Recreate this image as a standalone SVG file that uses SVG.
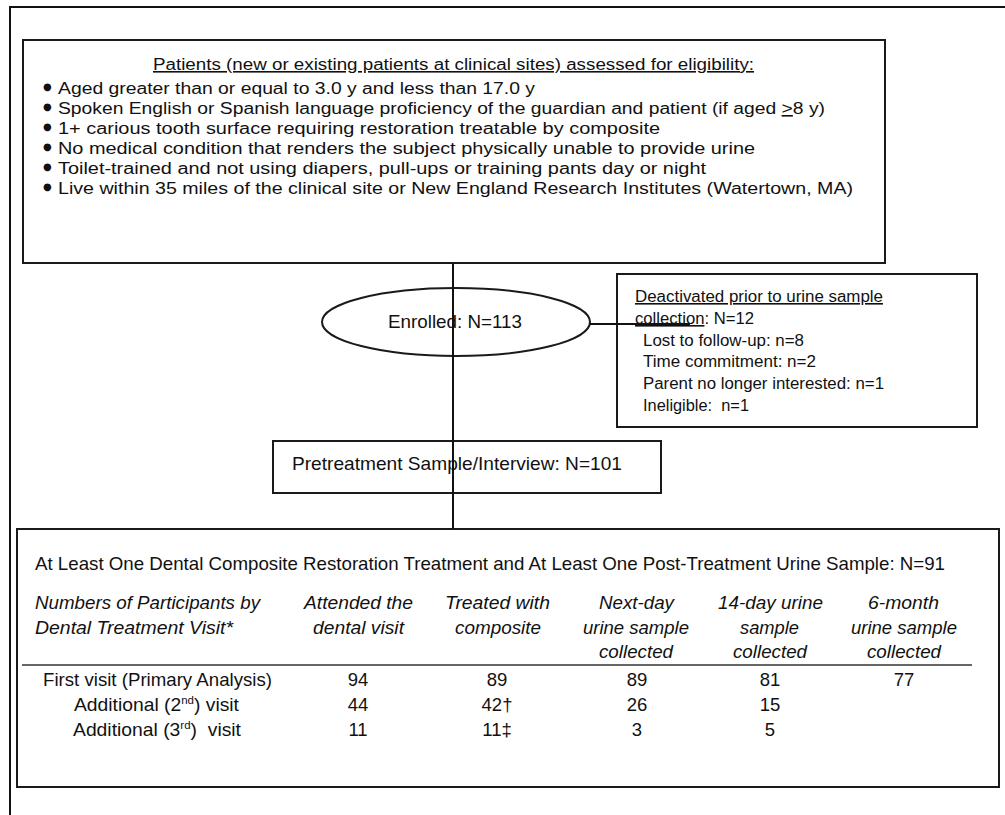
<svg xmlns="http://www.w3.org/2000/svg" width="1005" height="815" viewBox="0 0 1005 815">
<style>
.box{fill:#fff;stroke:#1a1a1a;stroke-width:2}
.ln{fill:none;stroke:#111;stroke-width:2}
text{font-family:"Liberation Sans",Arial,sans-serif;fill:#111}
.t15{font-size:16px}
.t18{font-size:18.5px}
.it{font-size:18.5px;font-style:italic}
.num{font-size:18.5px;text-anchor:middle}
.bul{font-family:"DejaVu Sans",sans-serif;font-size:10px}
</style>
<rect width="1005" height="815" fill="#fff"/>
<g id="frame">
<path class="ln" d="M10 815 V7 H1005"/>
</g>
<g id="node-eligibility">
<rect class="box" x="23" y="40" width="862" height="223"/>
<text class="t15" x="153" y="70" textLength="601" lengthAdjust="spacingAndGlyphs" text-decoration="underline">Patients (new or existing patients at clinical sites) assessed for eligibility:</text>
<text class="bul" x="43" y="90">●</text>
<text class="t15" x="58" y="94" textLength="477" lengthAdjust="spacingAndGlyphs">Aged greater than or equal to 3.0 y and less than 17.0 y</text>
<text class="bul" x="43" y="110">●</text>
<text class="t15" x="58" y="114" textLength="767" lengthAdjust="spacingAndGlyphs">Spoken English or Spanish language proficiency of the guardian and patient (if aged <tspan text-decoration="underline">&gt;</tspan>8 y)</text>
<text class="bul" x="43" y="130">●</text>
<text class="t15" x="58" y="134" textLength="602" lengthAdjust="spacingAndGlyphs">1+ carious tooth surface requiring restoration treatable by composite</text>
<text class="bul" x="43" y="150">●</text>
<text class="t15" x="58" y="154" textLength="697" lengthAdjust="spacingAndGlyphs">No medical condition that renders the subject physically unable to provide urine</text>
<text class="bul" x="43" y="170">●</text>
<text class="t15" x="58" y="174" textLength="648" lengthAdjust="spacingAndGlyphs">Toilet-trained and not using diapers, pull-ups or training pants day or night</text>
<text class="bul" x="43" y="190">●</text>
<text class="t15" x="58" y="194" textLength="795" lengthAdjust="spacingAndGlyphs">Live within 35 miles of the clinical site or New England Research Institutes (Watertown, MA)</text>
</g>
<g id="node-enrolled">
<ellipse class="box" cx="456" cy="322" rx="134" ry="34"/>
<text class="t18" x="388" y="328" textLength="134" lengthAdjust="spacingAndGlyphs">Enrolled: N=113</text>
</g>
<g id="node-deactivated">
<rect class="box" x="617" y="274" width="360" height="153"/>
<text class="t15" x="635" y="302" textLength="248" lengthAdjust="spacingAndGlyphs" text-decoration="underline">Deactivated prior to urine sample</text>
<text class="t15" x="635" y="324" textLength="119" lengthAdjust="spacingAndGlyphs"><tspan text-decoration="underline">collection</tspan>: N=12</text>
<text class="t15" x="643" y="346" textLength="161" lengthAdjust="spacingAndGlyphs">Lost to follow-up: n=8</text>
<text class="t15" x="643" y="367" textLength="173" lengthAdjust="spacingAndGlyphs">Time commitment: n=2</text>
<text class="t15" x="643" y="389" textLength="241" lengthAdjust="spacingAndGlyphs">Parent no longer interested: n=1</text>
<text class="t15" x="643" y="411" textLength="106" lengthAdjust="spacingAndGlyphs" xml:space="preserve">Ineligible:  n=1</text>
</g>
<g id="node-pretreatment">
<rect class="box" x="273" y="441" width="388" height="52"/>
<text class="t18" x="292" y="470" textLength="330" lengthAdjust="spacingAndGlyphs">Pretreatment Sample/Interview: N=101</text>
</g>
<g id="node-treatment">
<rect class="box" x="17" y="529" width="982" height="258"/>
<text class="t18" x="35" y="570" textLength="910" lengthAdjust="spacingAndGlyphs">At Least One Dental Composite Restoration Treatment and At Least One Post-Treatment Urine Sample: N=91</text>
<text class="it" x="35" y="609" textLength="225" lengthAdjust="spacingAndGlyphs">Numbers of Participants by</text>
<text class="it" x="35" y="634" textLength="198" lengthAdjust="spacingAndGlyphs">Dental Treatment Visit*</text>
<text class="it" x="304" y="609" textLength="109" lengthAdjust="spacingAndGlyphs">Attended the</text>
<text class="it" x="313" y="634" textLength="91" lengthAdjust="spacingAndGlyphs">dental visit</text>
<text class="it" x="445" y="609" textLength="105" lengthAdjust="spacingAndGlyphs">Treated with</text>
<text class="it" x="455" y="634" textLength="86" lengthAdjust="spacingAndGlyphs">composite</text>
<text class="it" x="599" y="609" textLength="75" lengthAdjust="spacingAndGlyphs">Next-day</text>
<text class="it" x="583" y="634" textLength="106" lengthAdjust="spacingAndGlyphs">urine sample</text>
<text class="it" x="599" y="658" textLength="74" lengthAdjust="spacingAndGlyphs">collected</text>
<text class="it" x="718" y="609" textLength="105" lengthAdjust="spacingAndGlyphs">14-day urine</text>
<text class="it" x="740" y="634" textLength="59" lengthAdjust="spacingAndGlyphs">sample</text>
<text class="it" x="733" y="658" textLength="74" lengthAdjust="spacingAndGlyphs">collected</text>
<text class="it" x="868" y="609" textLength="71" lengthAdjust="spacingAndGlyphs">6-month</text>
<text class="it" x="851" y="634" textLength="106" lengthAdjust="spacingAndGlyphs">urine sample</text>
<text class="it" x="867" y="658" textLength="74" lengthAdjust="spacingAndGlyphs">collected</text>
<line x1="22" y1="665" x2="972" y2="665" stroke="#333" stroke-width="1.5"/>
<text class="t18" x="43" y="686" textLength="229" lengthAdjust="spacingAndGlyphs">First visit (Primary Analysis)</text>
<text class="t18" x="74" y="711" textLength="165" lengthAdjust="spacingAndGlyphs">Additional (2<tspan font-size="11" dy="-7">nd</tspan><tspan dy="7">) visit</tspan></text>
<text class="t18" x="73" y="736" textLength="168" lengthAdjust="spacingAndGlyphs" xml:space="preserve">Additional (3<tspan font-size="11" dy="-7">rd</tspan><tspan dy="7">)  visit</tspan></text>
<text class="num" x="358" y="686">94</text>
<text class="num" x="358" y="711">44</text>
<text class="num" x="358" y="736">11</text>
<text class="num" x="497" y="686">89</text>
<text class="num" x="497" y="711">42†</text>
<text class="num" x="497" y="736">11‡</text>
<text class="num" x="637" y="686">89</text>
<text class="num" x="637" y="711">26</text>
<text class="num" x="637" y="736">3</text>
<text class="num" x="770" y="686">81</text>
<text class="num" x="770" y="711">15</text>
<text class="num" x="770" y="736">5</text>
<text class="num" x="904" y="686">77</text>
</g>
<g id="connectors">
<line class="ln" x1="453" y1="263" x2="453" y2="529"/>
<line class="ln" x1="590" y1="324" x2="690" y2="324"/>
</g>
</svg>
